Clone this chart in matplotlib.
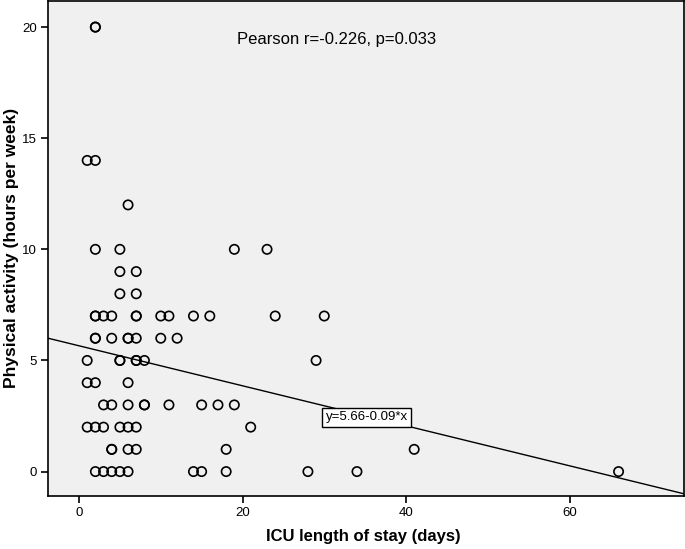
import numpy as np
import matplotlib.pyplot as plt

plt.rcParams['font.family'] = ['Liberation Sans', 'DejaVu Sans']

# ICU length of stay (days) and physical activity (hours per week)
icu_days = [2, 2, 1, 2, 6,
            2, 5, 19, 23,
            5, 7,
            5, 7,
            2, 2, 3, 4, 7, 7, 10, 11, 14, 16, 24, 30,
            2, 2, 4, 6, 6, 7, 10, 12,
            1, 5, 5, 7, 7, 8, 29,
            1, 2, 6,
            3, 4, 6, 8, 8, 11, 15, 17, 19,
            1, 2, 3, 5, 6, 7, 21,
            4, 4, 6, 7, 18, 41,
            2, 3, 4, 5, 6, 14, 15, 18, 28, 34, 66]
activity = [20, 20, 14, 14, 12,
            10, 10, 10, 10,
            9, 9,
            8, 8,
            7, 7, 7, 7, 7, 7, 7, 7, 7, 7, 7, 7,
            6, 6, 6, 6, 6, 6, 6, 6,
            5, 5, 5, 5, 5, 5, 5,
            4, 4, 4,
            3, 3, 3, 3, 3, 3, 3, 3, 3,
            2, 2, 2, 2, 2, 2, 2,
            1, 1, 1, 1, 1, 1,
            0, 0, 0, 0, 0, 0, 0, 0, 0, 0, 0]

intercept = 5.66
slope = -0.09
xlim = (-3.8, 74.0)
ylim = (-1.1, 21.17)

fig = plt.figure(figsize=(6.85, 5.49), dpi=100)
ax = fig.add_axes([0.070, 0.0965, 0.9285, 0.9015])
ax.set_facecolor('#f0f0f0')

ax.scatter(icu_days, activity, s=45, facecolors='none', edgecolors='black',
           linewidths=1.2, zorder=3)

# regression line across the full x range
xs = np.array(xlim)
ax.plot(xs, intercept + slope * xs, color='black', linewidth=1.0, zorder=2)

ax.text(35.2, 2.44, 'y=5.66-0.09*x', ha='center', va='center', fontsize=9.5,
        bbox=dict(boxstyle='square,pad=0.25', facecolor='white', edgecolor='black',
                  linewidth=1.0), zorder=4)

ax.text(31.5, 19.42, 'Pearson r=-0.226, p=0.033', ha='center', va='center', fontsize=12)

ax.set_xlim(*xlim)
ax.set_ylim(*ylim)
ax.set_xticks([0, 20, 40, 60])
ax.set_yticks([0, 5, 10, 15, 20])
ax.tick_params(direction='out', length=5, width=1.2, labelsize=9.5, colors='black', pad=3)
for sp in ax.spines.values():
    sp.set_linewidth(1.2)

fig.text(0.530, 0.022, 'ICU length of stay (days)', ha='center', va='center',
         fontsize=12, fontweight='bold')
fig.text(0.0175, 0.548, 'Physical activity (hours per week)', ha='center', va='center',
         rotation=90, fontsize=12.5, fontweight='bold')

fig.savefig('out.png', dpi=100)
